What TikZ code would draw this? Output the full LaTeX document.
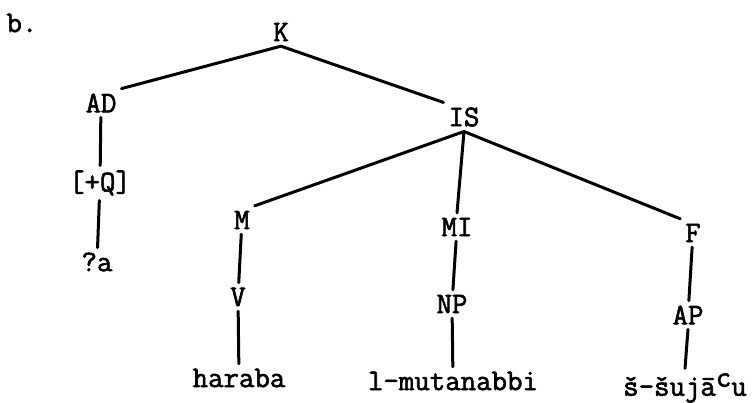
\documentclass[tikz,border=0pt]{standalone}
\usepackage{fontspec}
\setmonofont[FakeBold=2]{Latin Modern Mono}
\tikzset{
    branch/.style={line width=3pt, line cap=round}
}
\begin{document}
\begin{tikzpicture}[x=1pt, y=-1pt,
    tree node/.style={inner sep=1pt, outer sep=4pt, font=\fontsize{30}{33}\selectfont\ttfamily}]
\useasboundingbox (0,0) rectangle (753,403);

\node[tree node] (lbl) at (22,23) {b.};
\node[tree node] (K) at (281,32) {K};
\node[tree node] (AD) at (101,103) {AD};
\node[tree node] (Q) at (100,183) {[+Q]};
\node[tree node] (qa) at (97,262) {?a};
\node[tree node] (IS) at (464,117) {IS};
\node[tree node] (M) at (242,220) {M};
\node[tree node] (MI) at (457,227) {MI};
\node[tree node] (F) at (693,233) {F};
\node[tree node] (V) at (238,297) {V};
\node[tree node] (NP) at (452,304) {NP};
\node[tree node] (AP) at (688,315) {AP};
\node[tree node] (haraba) at (239,378) {haraba};
\node[tree node] (mutanabbi) at (453,381) {l-mutanabbi};
\node[tree node] (shujau) at (685,388) {š-šujā\raisebox{0.7ex}{c}u};

% upper branches
\draw[branch] (K.south) -- (AD.north east);
\draw[branch] (K.south) -- (IS.north west);
\draw[branch] (IS.south) -- (M.north east);
\draw[branch] (IS.south) -- (MI.north);
\draw[branch] (IS.south) -- (F.north west);
% vertical branches
\draw[branch] (AD) -- (Q);
\draw[branch] (Q) -- (qa);
\draw[branch] (M) -- (V);
\draw[branch] (V) -- (haraba);
\draw[branch] (MI) -- (NP);
\draw[branch] (NP) -- (mutanabbi);
\draw[branch] (F) -- (AP);
\draw[branch] (AP.south) -- (shujau.north);
\end{tikzpicture}
\end{document}
